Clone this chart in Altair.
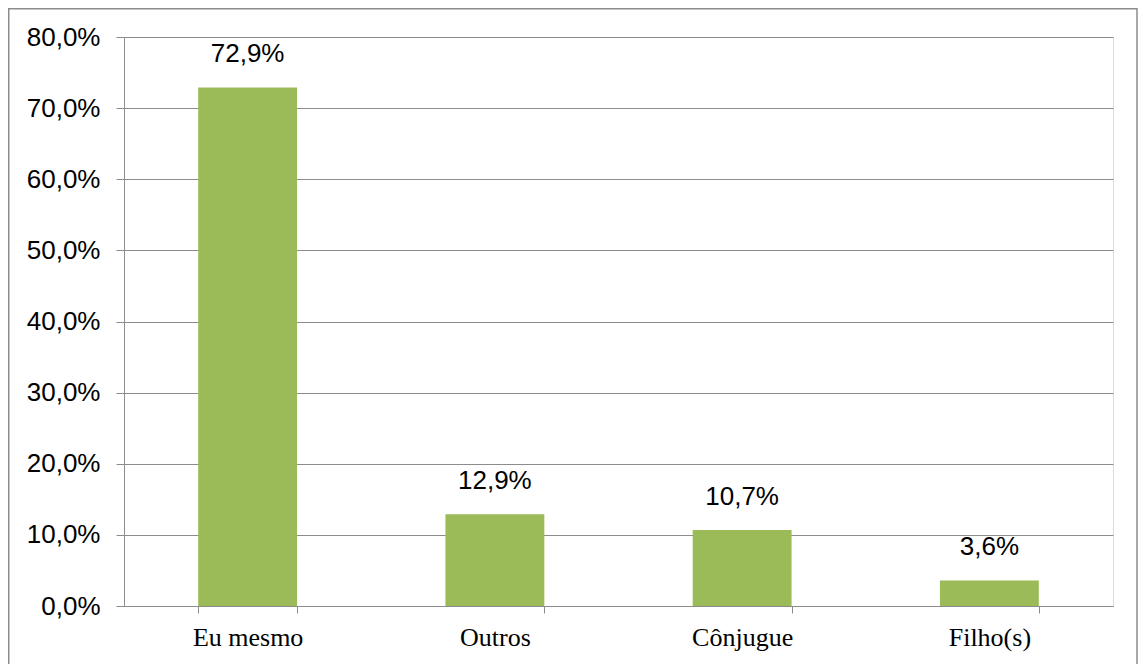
import altair as alt
import pandas as pd

categories = ["Eu mesmo", "Outros", "Cônjugue", "Filho(s)"]
values = [72.9, 12.9, 10.7, 3.6]

df = pd.DataFrame({"cat": categories, "v": values})

GRID = "#8c8c8c"
W, H = 989, 569
PL, PT = 116, 29
TOTAL_W, TOTAL_H = 1130, 656

x_enc = alt.X(
    "cat:N", sort=categories, title=None,
    scale=alt.Scale(paddingInner=0.6, paddingOuter=0.3),
    axis=alt.Axis(
        labelAngle=0, labelFont="Liberation Serif", labelFontSize=26,
        labelColor="#000000", labelPadding=11, tickBand="extent",
        tickSize=7, tickColor=GRID, domainColor=GRID, grid=False,
        labelBaseline="top",
    ),
)
y_enc = alt.Y(
    "v:Q", title=None,
    scale=alt.Scale(domain=[0, 80], nice=False),
    axis=alt.Axis(
        values=[0, 10, 20, 30, 40, 50, 60, 70, 80],
        labelExpr="replace(format(datum.value, '.1f'), '.', ',') + '%'",
        labelFont="Liberation Sans", labelFontSize=26, labelColor="#000000",
        labelPadding=16, tickSize=8, tickColor=GRID, domainColor=GRID,
        gridColor=GRID, gridOpacity=1, grid=True,
    ),
)

bars = alt.Chart(df).mark_bar(color="#9BBB59").encode(x=x_enc, y=y_enc)

labels = alt.Chart(df).transform_calculate(
    lab="replace(format(datum.v, '.1f'), '.', ',') + '%'"
).mark_text(
    font="Liberation Sans", fontSize=26, color="#000000", dy=-33, baseline="middle"
).encode(x=alt.X("cat:N", sort=categories), y="v:Q", text="lab:N")

border = alt.Chart(alt.Data(values=[{}])).mark_rect(
    fill=None, stroke="#8c8c8c", strokeWidth=1.5
).encode(
    x=alt.value(-PL + 0.75), x2=alt.value(TOTAL_W - PL - 1),
    y=alt.value(-PT + 0.75), y2=alt.value(H + 100),
)

chart = alt.layer(border, bars, labels).properties(
    width=W, height=H,
    autosize=alt.AutoSizeParams(type="none"),
    padding={"left": PL, "top": PT, "right": TOTAL_W - PL - W, "bottom": TOTAL_H - PT - H},
).configure_view(stroke=None).configure(background="white")

chart.save("out.html", embed_options={"renderer": "svg", "actions": False})
